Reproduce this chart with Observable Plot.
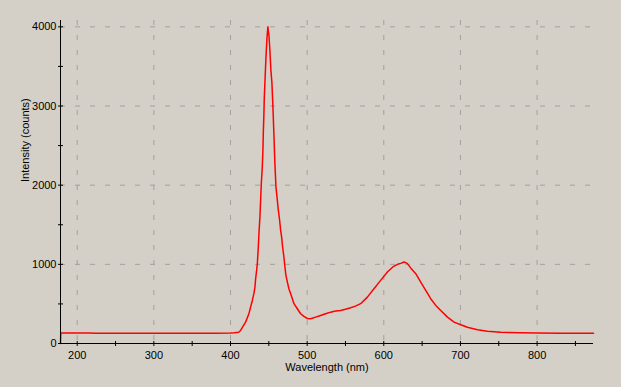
<!DOCTYPE html>
<html>
<head>
<meta charset="utf-8">
<script src="https://cdn.jsdelivr.net/npm/d3@7"></script>
<script src="https://cdn.jsdelivr.net/npm/@observablehq/plot@0.6"></script>
<style>
  html, body { margin: 0; padding: 0; background: #d4d0c8; }
  #chart svg { display: block; background: #d4d0c8; }
</style>
</head>
<body>
<div id="chart"></div>
<script>
// Spectrum values
const wavelength = [178.2, 178.6, 190, 200, 215, 225, 250, 300, 350, 380, 400, 405, 410.6, 413.2, 417.1, 419.7, 424.0, 426.2, 428.5, 430.5, 431.9, 432.8, 434.1, 435.0, 436.3, 437.1, 438.4, 439.3, 440.2, 441.5, 442.3, 442.8, 443.6, 444.0, 444.9, 446.2, 447.5, 448.8, 449.4, 450.1, 451.4, 452.7, 454.0, 455.3, 456.6, 457.9, 459.3, 461.1, 462.4, 464.1, 465.4, 466.7, 468.0, 469.7, 471.0, 472.3, 474.2, 476.2, 478.5, 480.7, 482.8, 487.2, 491.5, 495.8, 500.3, 504.6, 506.8, 511.1, 517.6, 524, 530.7, 537, 543.7, 550, 556.8, 563, 569.8, 578.6, 587.2, 595.9, 604.7, 612.9, 618, 622.1, 626.4, 630.5, 635.1, 641.7, 648.2, 654.7, 661.2, 667.8, 674.3, 683.1, 691.7, 700.4, 709.1, 722.2, 735.2, 752.6, 778.7, 800, 831, 850, 873.6];
const counts     = [0, 132, 133, 132, 133, 131, 130, 130, 131, 131, 132, 135, 142, 165, 228, 270, 376, 460, 544, 629, 713, 819, 924, 1009, 1219, 1388, 1599, 1810, 2022, 2232, 2443, 2654, 2907, 3076, 3300, 3600, 3850, 4000, 3940, 3900, 3700, 3450, 3300, 3000, 2650, 2275, 1979, 1810, 1684, 1557, 1430, 1346, 1219, 1092, 966, 861, 776, 692, 629, 566, 503, 439, 376, 342, 316, 312, 320, 333, 354, 375, 396, 410, 418, 432, 452, 472, 503, 586, 692, 797, 903, 975, 1000, 1012, 1029, 1012, 955, 882, 776, 671, 566, 481, 418, 333, 270, 237, 206, 173, 156, 143, 135, 132, 131, 130, 130];

const xMajor = [200, 300, 400, 500, 600, 700, 800];
const xMinor = [250, 350, 450, 550, 650, 750, 850];
const yMajor = [0, 1000, 2000, 3000, 4000];
const yMinor = [500, 1500, 2500, 3500];
const xLabel = "Wavelength (nm)";
const yLabel = "Intensity (counts)";

const spectrum = wavelength.map((w, i) => ({w, c: counts[i]}));

const W = 621, H = 387;
const mL = 60, mR = 28, mT = 20, mB = 44;
const plotW = W - mL - mR, plotH = H - mT - mB;
const xDom = [178.2, 873.6];
const gridColor = "#a0a0a0";

const chart = Plot.plot({
  width: W,
  height: H,
  marginLeft: mL,
  marginRight: mR,
  marginTop: mT,
  marginBottom: mB,
  style: {background: "#d4d0c8", fontFamily: "'Liberation Sans', Arial, sans-serif", fontSize: "11px", color: "black"},
  x: {domain: xDom, axis: null},
  y: {domain: [0, 4080], axis: null},
  marks: [
    Plot.gridX(xMajor, {stroke: gridColor, strokeOpacity: 1, strokeDasharray: "5,10"}),
    Plot.gridY(yMajor.filter(d => d > 0), {stroke: gridColor, strokeOpacity: 1, strokeDasharray: "5,10"}),
    Plot.line(spectrum, {x: "w", y: "c", stroke: "#ff0000", strokeWidth: 1.5}),
    Plot.ruleX([xDom[0]], {stroke: "black"}),
    Plot.ruleY([0], {stroke: "black"}),
    Plot.tickX(xMajor.concat(xMinor), {x: d => d, stroke: "black", insetTop: plotH - 5, dy: 3}),
    Plot.tickY(yMajor.concat(yMinor), {y: d => d, stroke: "black", insetRight: plotW - 5, dx: -2}),
    Plot.text(xMajor, {x: d => d, y: 0, text: d => String(d), dy: 12, fill: "black"}),
    Plot.text(yMajor, {x: xDom[0], y: d => d, text: d => String(d), dx: -4, textAnchor: "end", fill: "black"}),
    Plot.text([xLabel], {frameAnchor: "bottom", dy: 27, fill: "black"}),
    Plot.text([yLabel], {frameAnchor: "left", dx: -35, rotate: -90, fill: "black"})
  ]
});
document.getElementById("chart").appendChild(chart);
</script>
</body>
</html>
